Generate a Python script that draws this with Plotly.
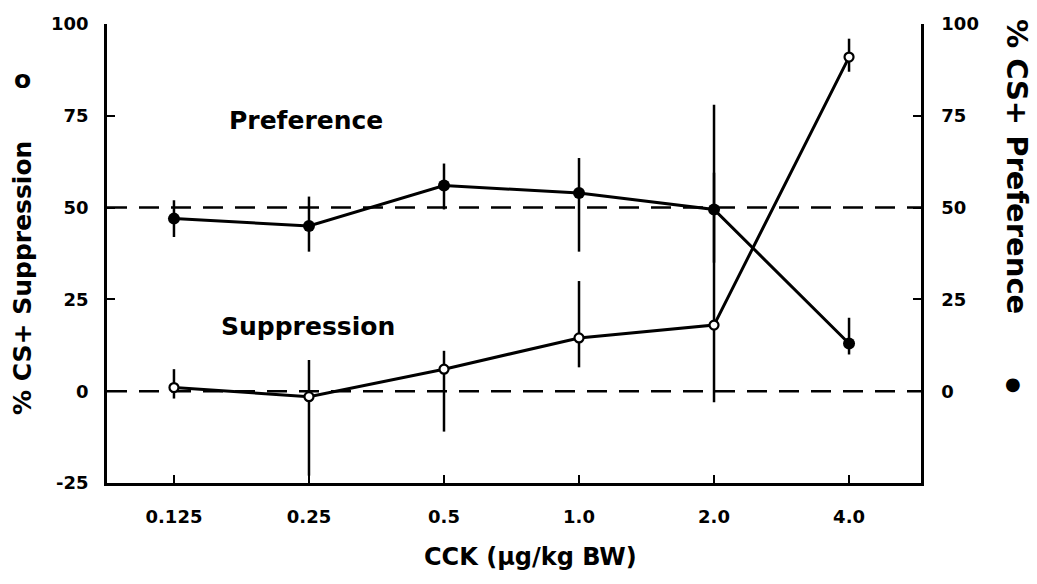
import plotly.graph_objects as go

# CCK dose groups (µg/kg body weight)
doses = ["0.125", "0.25", "0.5", "1.0", "2.0", "4.0"]

# % CS+ preference (filled circles, right axis)
preference = [47, 45, 56, 54, 49.5, 13]
preference_err_plus = [5, 8, 6, 9.5, 10, 7]
preference_err_minus = [5, 7, 6.5, 16, 14.5, 3]

# % CS+ suppression (open circles, left axis)
suppression = [1, -1.5, 6, 14.5, 18, 91]
suppression_err_plus = [5, 10, 5, 15.5, 60, 5]
suppression_err_minus = [3, 21.5, 17, 8, 21, 4]

left_ticks = [-25, 0, 25, 50, 75, 100]
left_tick_text = ["-25", "0", "25", "50", "75", "100"]
right_ticks = [0, 25, 50, 75, 100]

FONT = "DejaVu Sans"
W, H = 1037, 584
ML, MR, MT, MB = 107, 116, 24, 101
PW, PH = W - ML - MR, H - MT - MB


def px(x):
    return (x - ML) / PW


def py(y):
    return (H - MB - y) / PH


x_idx = list(range(len(doses)))

fig = go.Figure()

fig.add_trace(go.Scatter(
    x=x_idx, y=suppression, mode="lines+markers", yaxis="y",
    line=dict(color="black", width=3),
    marker=dict(symbol="circle", size=9, color="white",
                line=dict(color="black", width=2.2)),
    error_y=dict(type="data", symmetric=False, array=suppression_err_plus,
                 arrayminus=suppression_err_minus, color="black",
                 thickness=2.5, width=0),
    showlegend=False,
))

fig.add_trace(go.Scatter(
    x=x_idx, y=preference, mode="lines+markers", yaxis="y2",
    line=dict(color="black", width=3),
    marker=dict(symbol="circle", size=12, color="black"),
    error_y=dict(type="data", symmetric=False, array=preference_err_plus,
                 arrayminus=preference_err_minus, color="black",
                 thickness=2.5, width=0),
    showlegend=False,
))

# reference lines at 0 % and 50 %
for level in (0, 50):
    fig.add_shape(type="line", xref="paper", yref="y", x0=0, x1=1,
                  y0=level, y1=level, layer="below",
                  line=dict(color="black", width=2.5, dash="20px,12px"))

tick_font = dict(family=FONT, size=18, color="black", weight="bold")
title_font = dict(family=FONT, size=25, color="black", weight="bold")

fig.update_layout(
    width=W, height=H,
    margin=dict(l=ML, r=MR, t=MT, b=MB, pad=0),
    paper_bgcolor="white", plot_bgcolor="white",
    xaxis=dict(
        range=[-0.496, 5.533], tickmode="array", tickvals=x_idx, ticktext=doses,
        showgrid=False, zeroline=False, showline=True, linecolor="black",
        linewidth=2.5, ticks="inside", ticklen=8, tickwidth=2,
        tickcolor="black", tickfont=tick_font, ticklabelstandoff=16,
    ),
    yaxis=dict(
        range=[-25, 100], tickmode="array", tickvals=left_ticks,
        ticktext=left_tick_text,
        showgrid=False, zeroline=False, showline=True, linecolor="black",
        linewidth=2.5, ticks="inside", ticklen=8, tickwidth=2,
        tickcolor="black", tickfont=tick_font, ticklabelstandoff=12,
    ),
    yaxis2=dict(
        range=[-25, 100], tickmode="array", tickvals=right_ticks,
        overlaying="y", side="right",
        showgrid=False, zeroline=False, showline=True, linecolor="black",
        linewidth=2.5, ticks="inside", ticklen=8, tickwidth=2,
        tickcolor="black", tickfont=tick_font, ticklabelstandoff=14,
    ),
    annotations=[
        dict(text="Preference", x=px(306), y=py(121), xref="paper", yref="paper",
             showarrow=False, font=title_font, xanchor="center", yanchor="middle"),
        dict(text="Suppression", x=px(308), y=py(326), xref="paper", yref="paper",
             showarrow=False, font=title_font, xanchor="center", yanchor="middle"),
        dict(text="CCK (µg/kg BW)", x=px(530), y=py(557), xref="paper",
             yref="paper", showarrow=False,
             font=dict(family=FONT, size=24, color="black", weight="bold"),
             xanchor="center", yanchor="middle"),
        dict(text="% CS+ Suppression", x=px(22), y=py(278), xref="paper",
             yref="paper", showarrow=False, font=title_font, textangle=-90,
             xanchor="center", yanchor="middle"),
        dict(text="o", x=px(22), y=py(80), xref="paper", yref="paper",
             showarrow=False, font=title_font, xanchor="center", yanchor="middle"),
        dict(text="% CS+ Preference", x=px(1017), y=py(166), xref="paper",
             yref="paper", showarrow=False,
             font=dict(family=FONT, size=29, color="black", weight="bold"),
             textangle=90, xanchor="center", yanchor="middle"),
        dict(text="●", x=px(1013), y=py(383), xref="paper", yref="paper",
             showarrow=False, font=dict(family=FONT, size=18, color="black"),
             xanchor="center", yanchor="middle"),
    ],
)

fig.write_html("out.html")
